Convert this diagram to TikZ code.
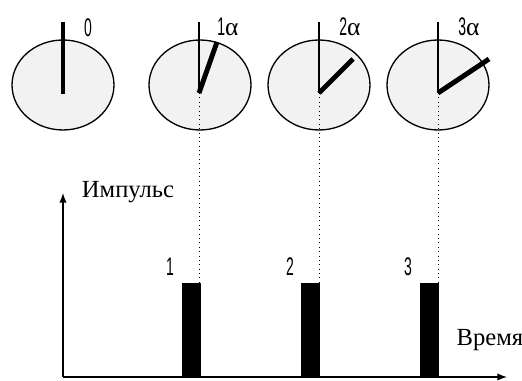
\documentclass[tikz,border=0pt]{standalone}
\usepackage{fontspec}
\setmainfont{Liberation Serif}
\newfontfamily\narrowdigits[FakeStretch=0.55]{Liberation Sans}
\usetikzlibrary{arrows.meta, positioning, shapes.geometric}

\begin{document}
\begin{tikzpicture}[x=0.02cm, y=-0.02cm,
    dial/.style={draw, ellipse, fill=black!5, line width=0.75pt, minimum width=2.04cm, minimum height=1.8cm, inner sep=0pt},
    hand/.style={line width=0.75pt},
    needle/.style={line width=2.8pt},
    pulse/.style={fill=black, inner sep=0pt, minimum width=0.38cm, minimum height=1.86cm, anchor=south west},
    guide/.style={dotted, line width=0.5pt},
    axis/.style={line width=0.75pt, -{Latex[length=5.5pt,width=4.2pt]}},
    digit/.style={font=\narrowdigits\fontsize{14.5}{15}\selectfont, inner sep=0pt},
    word/.style={font=\fontsize{14}{15}\selectfont, inner sep=0pt}]
    \useasboundingbox (0,0) rectangle (522,381);

    % Dials
    \node[dial] (d0) at (63,85) {};
    \node[dial] (d1) at (200,85) {};
    \node[dial] (d2) at (319,85) {};
    \node[dial] (d3) at (438,85) {};
    \coordinate (p0) at (63,94);
    \coordinate (p1) at (199,93);
    \coordinate (p2) at (319,93);
    \coordinate (p3) at (438,93);

    % Start position of each hand
    \draw[needle] (p0) -- (63,22) coordinate (t0);
    \draw[hand] (p1) -- (199,22) coordinate (t1);
    \draw[hand] (p2) -- (319,22) coordinate (t2);
    \draw[hand] (p3) -- (438,22) coordinate (t3);

    % Turned hands
    \draw[needle] (p1) -- (217,42) coordinate (h1);
    \draw[needle] (p2) -- (353,59) coordinate (h2);
    \draw[needle] (p3) -- (489,59) coordinate (h3);

    \node[digit] (l0) at (88,28) {0};
    \node[digit] (l1) at (228,27) {1\rmfamily α};
    \node[digit] (l2) at (350,27) {2\rmfamily α};
    \node[digit] (l3) at (469,27) {3\rmfamily α};

    % Axes
    \coordinate (o) at (63,377);
    \draw[axis] (o) -- (63,193) coordinate (ytip);
    \draw[axis] (o) -- (507,377) coordinate (xtip);
    \node[word] (imp) at (128,192) {Импульс};
    \node[word] (time) at (490,340) {Время};

    % Pulses
    \node[pulse] (b1) at (182,376) {};
    \node[pulse] (b2) at (301,376) {};
    \node[pulse] (b3) at (420,376) {};
    \node[digit] (n1) at (170,267) {1};
    \node[digit] (n2) at (290,267) {2};
    \node[digit] (n3) at (408,267) {3};

    \draw[guide] (p1) -- (p1 |- b1.north);
    \draw[guide] (p2) -- (p2 |- b2.north);
    \draw[guide] (p3) -- (p3 |- b3.north);
\end{tikzpicture}
\end{document}
